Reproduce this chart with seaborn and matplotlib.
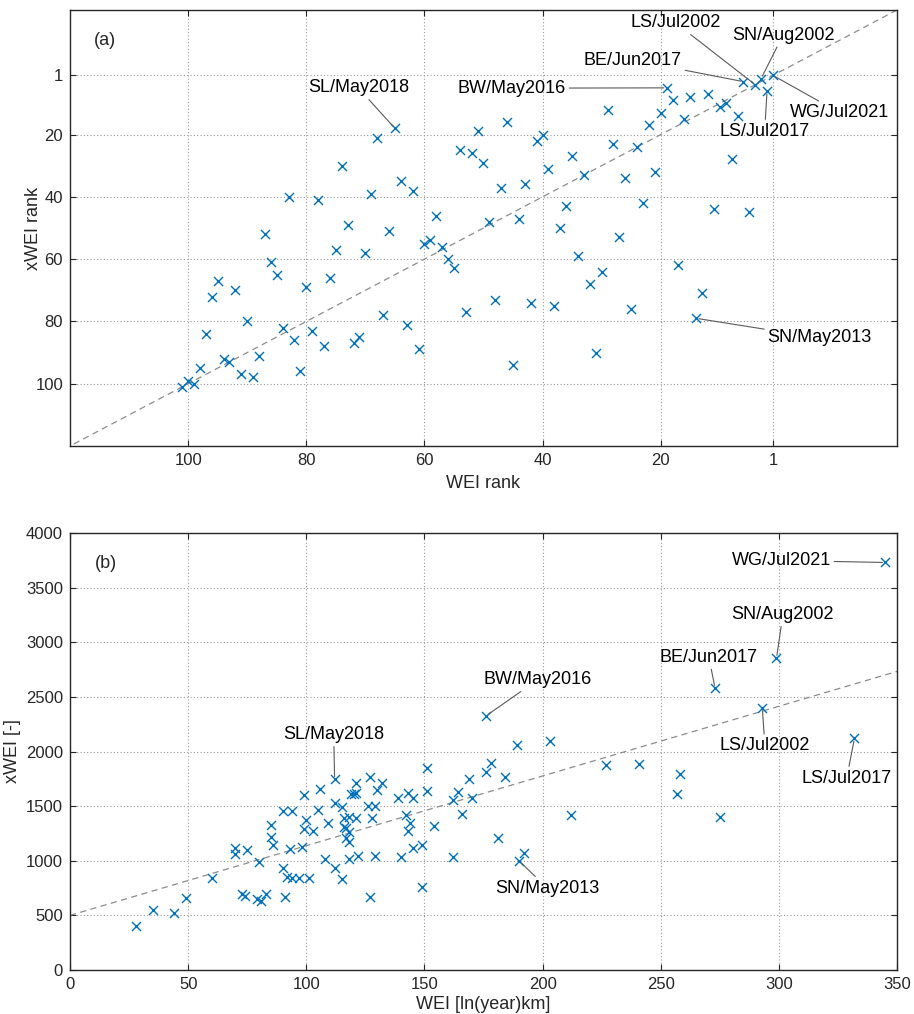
import matplotlib
matplotlib.use("Agg")
import matplotlib.pyplot as plt
import seaborn as sns
import pandas as pd

# Events ordered by WEI rank (1 = most extreme event)
wei_rank = [1, 2, 3, 4, 5, 6, 7, 8, 9, 10,
            11, 12, 13, 14, 15, 16, 17, 18, 19, 20,
            21, 22, 23, 24, 25, 26, 27, 28, 29, 30,
            31, 32, 33, 34, 35, 36, 37, 38, 39, 40,
            41, 42, 43, 44, 45, 46, 47, 48, 49, 50,
            51, 52, 53, 54, 55, 56, 57, 58, 59, 60,
            61, 62, 63, 64, 65, 66, 67, 68, 69, 70,
            71, 72, 73, 74, 75, 76, 77, 78, 79, 80,
            81, 82, 83, 84, 85, 86, 87, 88, 89, 90,
            91, 92, 93, 94, 95, 96, 97, 98, 99, 100,
            101]
xwei_rank = [1, 6, 2, 4, 45, 3, 14, 28, 10, 11,
             44, 7, 71, 79, 8, 15, 62, 9, 5, 13,
             32, 17, 42, 24, 76, 34, 53, 23, 12, 64,
             90, 68, 33, 59, 27, 43, 50, 75, 31, 20,
             22, 74, 36, 47, 94, 16, 37, 73, 48, 29,
             19, 26, 77, 25, 63, 60, 56, 46, 54, 55,
             89, 38, 81, 35, 18, 51, 78, 21, 39, 58,
             85, 87, 49, 30, 57, 66, 88, 41, 83, 69,
             96, 86, 40, 82, 65, 61, 52, 91, 98, 80,
             97, 70, 93, 92, 67, 72, 84, 95, 100, 99,
             101]

# Index values, same event order
wei = [345, 332, 299, 293, 275, 273, 258, 257, 241, 227,
       212, 203, 192, 190, 189, 184, 181, 178, 176, 176,
       170, 169, 166, 164, 162, 162, 154, 151, 151, 149,
       149, 145, 145, 143, 143, 142, 144, 140, 139, 132,
       130, 129, 129, 128, 127, 127, 126, 122, 121, 121,
       121, 120, 119, 118, 118, 118, 117, 118, 116, 117,
       115, 116, 112, 115, 112, 112, 108, 109, 106, 105,
       103, 101, 100, 99, 99, 98, 97, 94, 94, 93,
       92, 91, 90, 90, 86, 85, 85, 83, 81, 80,
       79, 75, 74, 73, 70, 70, 60, 49, 44, 35,
       28]
xwei = [3730, 2120, 2855, 2400, 1400, 2580, 1795, 1610, 1885, 1880,
        1420, 2095, 1075, 1000, 2060, 1770, 1210, 1895, 2325, 1815,
        1570, 1745, 1430, 1630, 1030, 1560, 1315, 1640, 1845, 1145,
        760, 1115, 1575, 1275, 1620, 1420, 1345, 1035, 1570, 1710,
        1650, 1040, 1500, 1395, 670, 1770, 1500, 1045, 1390, 1620,
        1710, 1615, 1615, 1015, 1175, 1267, 1298, 1405, 1313, 1206,
        835, 1390, 930, 1495, 1745, 1530, 1015, 1350, 1655, 1465,
        1275, 840, 1375, 1605, 1290, 1125, 838, 843, 1455, 1105,
        848, 665, 1455, 930, 1145, 1220, 1330, 695, 635, 985,
        650, 1095, 680, 695, 1120, 1065, 845, 655, 525, 545,
        400]

# Named events (by WEI rank) and where their labels sit in each panel
label_names = ["WG/Jul2021", "LS/Jul2017", "SN/Aug2002", "LS/Jul2002",
               "BE/Jun2017", "SN/May2013", "BW/May2016", "SL/May2018"]
label_wei_rank = [1, 2, 3, 4, 6, 14, 19, 65]
label_pos_rank = [(-10.3, 13.0), (2.4, 18.9), (-0.7, -11.9), (17.5, -15.9),
                  (24.7, -3.9), (-6.9, 85.3), (45.2, 5.1), (71.2, 5.0)]
label_pos_value = [(301.0, 3749), (328.7, 1756), (301.7, 3252), (294.1, 2052),
                   (270.4, 2861), (202.1, 748), (197.9, 2656), (111.6, 2153)]

rank_ticks = [100, 80, 60, 40, 20, 1]
value_xticks = [0, 50, 100, 150, 200, 250, 300, 350]
value_yticks = [0, 500, 1000, 1500, 2000, 2500, 3000, 3500, 4000]

# Linear fit of xWEI on WEI
fit_intercept = 500
fit_slope = 6.38

events = pd.DataFrame({"wei_rank": wei_rank, "xwei_rank": xwei_rank,
                       "wei": wei, "xwei": xwei})

sns.set_style("white")
plt.rcParams["font.family"] = ["Liberation Sans", "DejaVu Sans"]

BLUE = "#0072BD"
INK = "#262626"
LEADER = "#5a5a5a"

fig = plt.figure(figsize=(9.14, 10.14), dpi=100)
ax_a = fig.add_axes([70 / 914, 1 - 446 / 1014, 827 / 914, 436 / 1014])
ax_b = fig.add_axes([70 / 914, 1 - 970 / 1014, 827 / 914, 437 / 1014])


def style_axes(ax):
    ax.set_axisbelow(True)
    ax.grid(True, linestyle=(0, (1, 2)), color="#9a9a9a", linewidth=0.8)
    for sp in ax.spines.values():
        sp.set_color(INK)
        sp.set_linewidth(1.0)
        sp.set_visible(True)
    ax.tick_params(direction="in", length=4, width=0.8, color=INK,
                   labelcolor=INK, labelsize=12, top=True, right=True,
                   bottom=True, left=True, pad=5)


def annotate(ax, xcol, ycol, positions):
    for name, r, pos in zip(label_names, label_wei_rank, positions):
        row = events[events["wei_rank"] == r].iloc[0]
        ax.annotate(name, xy=(row[xcol], row[ycol]), xytext=pos,
                    ha="center", va="center", fontsize=13, color="black",
                    arrowprops=dict(arrowstyle="-", color=LEADER, lw=0.8,
                                    shrinkA=0, shrinkB=2))


# (a) rank versus rank
sns.scatterplot(data=events, x="wei_rank", y="xwei_rank", ax=ax_a,
                marker="x", color=BLUE, s=42, linewidth=1.0, zorder=3)
ax_a.axline((0, 0), slope=1, color="#8c8c8c", lw=0.9,
            linestyle=(0, (5, 3.5)), zorder=2)
ax_a.set_xlim(120, -20)
ax_a.set_ylim(120, -20)
ax_a.set_xticks(rank_ticks)
ax_a.set_yticks(rank_ticks)
ax_a.set_xlabel("WEI rank", fontsize=13, color=INK, labelpad=5)
ax_a.set_ylabel("xWEI rank", fontsize=13, color=INK)
ax_a.yaxis.set_label_coords(-0.034, 0.5)
style_axes(ax_a)
ax_a.text(0.029, 0.931, "(a)", transform=ax_a.transAxes, fontsize=13,
          ha="left", va="center", color=INK)
annotate(ax_a, "wei_rank", "xwei_rank", label_pos_rank)

# (b) index values
sns.scatterplot(data=events, x="wei", y="xwei", ax=ax_b,
                marker="x", color=BLUE, s=42, linewidth=1.0, zorder=3)
ax_b.axline((0, fit_intercept), slope=fit_slope, color="#8c8c8c", lw=0.9,
            linestyle=(0, (5, 3.5)), zorder=2)
ax_b.set_xlim(0, 350)
ax_b.set_ylim(0, 4000)
ax_b.set_xticks(value_xticks)
ax_b.set_yticks(value_yticks)
ax_b.set_xlabel("WEI [ln(year)km]", fontsize=13, color=INK, labelpad=3)
ax_b.set_ylabel("xWEI [-]", fontsize=13, color=INK)
ax_b.yaxis.set_label_coords(-0.059, 0.5)
style_axes(ax_b)
ax_b.text(0.030, 0.931, "(b)", transform=ax_b.transAxes, fontsize=13,
          ha="left", va="center", color=INK)
annotate(ax_b, "wei", "xwei", label_pos_value)

fig.savefig("out.png", dpi=100)
